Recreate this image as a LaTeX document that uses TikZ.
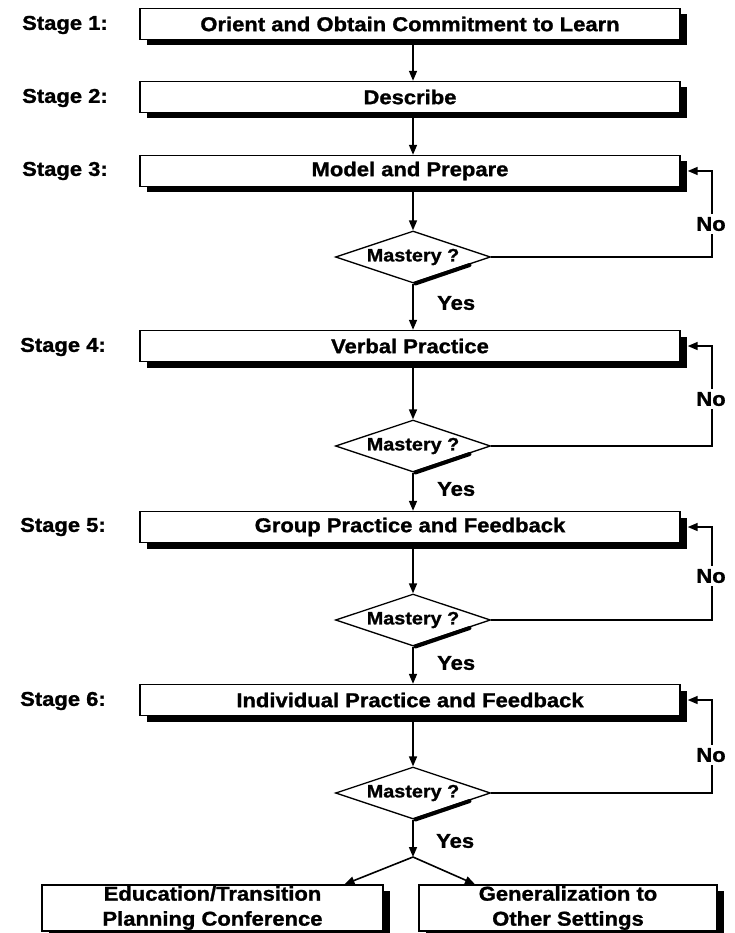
\documentclass[tikz,border=0pt]{standalone}
\usepackage{fontspec}
\setmainfont{Liberation Sans}[FakeStretch=1.1, BoldFeatures={FakeBold=1.2}]
\usetikzlibrary{shapes.geometric,arrows.meta,calc,shadows}
\newcommand\mthick[1]{\draw[thickedge] ($(#1.south)!0.03!(#1.east)+(0.2,-0.6)$) -- ($(#1.south)!0.72!(#1.east)+(0.2,-0.6)$);}
\begin{document}
\begin{tikzpicture}[x=1pt,y=1pt,
  lab/.style={font=\fontsize{20}{24}\selectfont\bfseries, inner sep=1pt},
  stagebox/.style={draw, line width=1.4pt, fill=white, minimum width=540pt, minimum height=31pt, inner sep=0pt,
     font=\fontsize{20}{24}\selectfont\bfseries,
     drop shadow={shadow xshift=7pt, shadow yshift=-6pt, opacity=1, fill=black}},
  endbox/.style={stagebox, align=center, minimum height=46pt, font=\fontsize{20}{25}\selectfont\bfseries},
  decide/.style={draw, shape=diamond, aspect=3, line width=1.3pt, fill=white, inner sep=0pt,
     minimum width=155pt, minimum height=52pt, font=\fontsize{18}{20}\selectfont\bfseries},
  thickedge/.style={line width=4pt, line cap=round},
  flow/.style={line width=1.6pt, -{Triangle[length=10pt,width=8pt]}},
  nolab/.style={lab, fill=white, inner sep=3pt}
]
\useasboundingbox (0,0) rectangle (734,-933);
\fill[white] (0,0) rectangle (734,-933);
\coordinate (cx) at (413,0);
\coordinate (fb) at (712,0);

% stage labels
\node[lab, anchor=west] (s1) at (21,-25) {Stage 1:};
\node[lab, anchor=west] (s2) at (21,-98) {Stage 2:};
\node[lab, anchor=west] (s3) at (21,-171) {Stage 3:};
\node[lab, anchor=west] (s4) at (19,-347) {Stage 4:};
\node[lab, anchor=west] (s5) at (19,-527) {Stage 5:};
\node[lab, anchor=west] (s6) at (19,-701) {Stage 6:};

% stage boxes
\node[stagebox] (b1) at (410,-24) {Orient and Obtain Commitment to Learn};
\node[stagebox] (b2) at (410,-97) {Describe};
\node[stagebox] (b3) at (410,-171) {Model and Prepare};
\node[stagebox] (b4) at (410,-346) {Verbal Practice};
\node[stagebox] (b5) at (410,-527) {Group Practice and Feedback};
\node[stagebox] (b6) at (410,-700) {Individual Practice and Feedback};

% decisions
\node[decide] (m1) at (413,-257) {Mastery ?};
\node[decide] (m2) at (413,-446) {Mastery ?};
\node[decide] (m3) at (413,-620) {Mastery ?};
\node[decide] (m4) at (413,-793) {Mastery ?};
\mthick{m1}
\mthick{m2}
\mthick{m3}
\mthick{m4}

% main flow
\draw[flow] (b1.south -| cx) -- (b2.north -| cx);
\draw[flow] (b2.south -| cx) -- (b3.north -| cx);
\draw[flow] (b3.south -| cx) -- (m1.north);
\draw[flow] (m1.south) -- (b4.north -| cx);
\draw[flow] (b4.south -| cx) -- (m2.north);
\draw[flow] (m2.south) -- (b5.north -| cx);
\draw[flow] (b5.south -| cx) -- (m3.north);
\draw[flow] (m3.south) -- (b6.north -| cx);
\draw[flow] (b6.south -| cx) -- (m4.north);

% feedback loops
\draw[flow] (m1.east) -| (fb |- b3.east) -- ([xshift=7pt]b3.east);
\draw[flow] (m2.east) -| (fb |- b4.east) -- ([xshift=7pt]b4.east);
\draw[flow] (m3.east) -| (fb |- b5.east) -- ([xshift=7pt]b5.east);
\draw[flow] (m4.east) -| (fb |- b6.east) -- ([xshift=7pt]b6.east);
\node[nolab] (n1) at (711,-224) {No};
\node[nolab] (n2) at (711,-399) {No};
\node[nolab] (n3) at (711,-576) {No};
\node[nolab] (n4) at (711,-755) {No};

% yes labels
\node[lab, anchor=west] (y1) at (436,-303) {Yes};
\node[lab, anchor=west] (y2) at (436,-489) {Yes};
\node[lab, anchor=west] (y3) at (436,-663) {Yes};
\node[lab, anchor=west] (y4) at (435,-841) {Yes};

% final split
\coordinate (split) at (413,-857);
\node[endbox, minimum width=341pt] (e1) at (212.5,-908) {Education/Transition\\Planning Conference};
\node[endbox, minimum width=298pt] (e2) at (568,-908) {Generalization to\\Other Settings};
\draw[flow] (m4.south) -- (split);
\draw[flow] (split) -- ([xshift=132pt]e1.north);
\draw[flow] (split) -- ([xshift=-93pt]e2.north);
\end{tikzpicture}
\end{document}
